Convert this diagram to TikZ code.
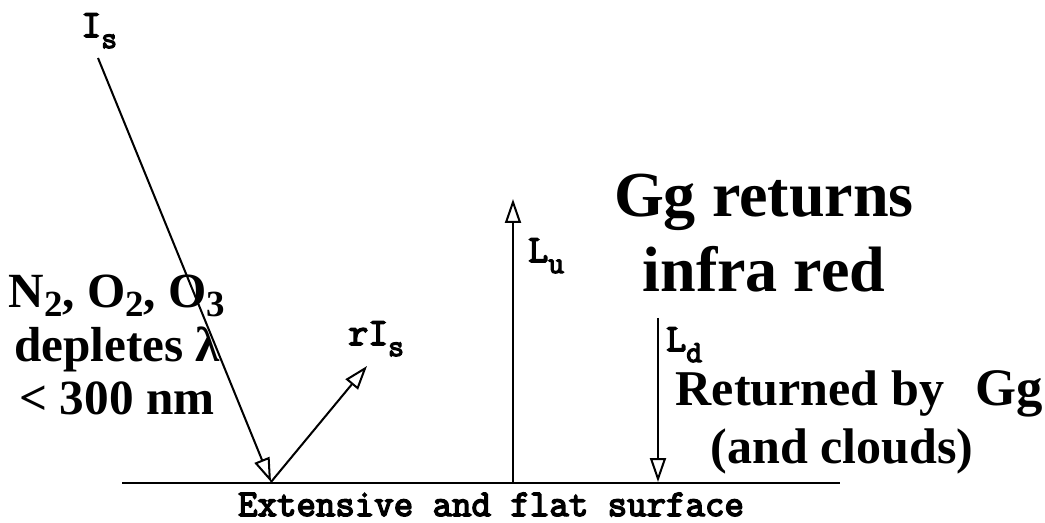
\documentclass[tikz,border=0pt]{standalone}
\usepackage{fontspec}
\setmainfont{Liberation Serif}
\newfontfamily\monofont[FakeBold=4]{Latin Modern Mono}
\usetikzlibrary{arrows.meta,positioning}
\newcommand{\flx}[1]{\raisebox{-6.3pt}{\fontsize{17.5}{17.5}\selectfont #1}}
\newcommand{\chem}[1]{\raisebox{-0.42ex}[0pt][0pt]{\fontsize{21}{21}\selectfont #1}}

\begin{document}
\begin{tikzpicture}[x=0.02cm,y=-0.02cm,
  ray/.style={line width=1.15pt,-{Triangle[open,length=0.48cm,width=0.32cm]}},
  flux/.style={font=\monofont\fontsize{22}{24}\selectfont,inner sep=0pt},
  note/.style={font=\bfseries\fontsize{28.5}{30}\selectfont,inner sep=0pt,align=center},
  big/.style={font=\bfseries\fontsize{36.5}{42.7}\selectfont,inner sep=0pt,align=center}]
  \useasboundingbox (0,0) rectangle (1045,523);
  % ground and ray end points
  \coordinate (gl) at (122,483);
  \coordinate (gr) at (840,483);
  \coordinate (src) at (98,58);
  \coordinate (hit) at (271,482);
  \coordinate (refl) at (367,366);
  \coordinate (luFoot) at (513,482);
  \coordinate (luTop) at (513,199);
  \coordinate (ldTop) at (658,318);
  \coordinate (ldFoot) at (658,482);
  \draw[line width=1.5pt] (gl) -- (gr);
  % rays
  \draw[ray] (src) -- (hit);
  \draw[ray] (hit) -- (refl);
  \draw[ray] (luFoot) -- (luTop);
  \draw[ray] (ldTop) -- (ldFoot);
  % flux labels
  \node[flux,anchor=base west] (is) at (81,37) {I\flx{s}};
  \node[flux,anchor=base west] (ris) at (348,345) {rI\flx{s}};
  \node[flux,anchor=base west] (lu) at (528,262) {L\flx{u}};
  \node[flux,anchor=base west] (ld) at (666,351) {L\flx{d}};
  \node[flux,anchor=base,font=\monofont\fontsize{21.5}{24}\selectfont] (surf) at (491,516) {Extensive and flat surface};
  % texts
  \node[note,font=\bfseries\fontsize{28}{30.5}\selectfont] (gas) at (117,345)
    {N\chem{2}, O\chem{2}, O\chem{3}\\depletes λ\\< 300 nm};
  \node[big] (gg) at (764,233) {Gg returns\\infra red};
  \node[note,anchor=base] (ret) at (810,406) {Returned by};
  \node[note,anchor=base west,font=\bfseries\fontsize{30}{32}\selectfont] (gg2) at (975,406) {Gg};
  \node[note,anchor=base] (cl) at (842,463) {(and clouds)};
\end{tikzpicture}
\end{document}
